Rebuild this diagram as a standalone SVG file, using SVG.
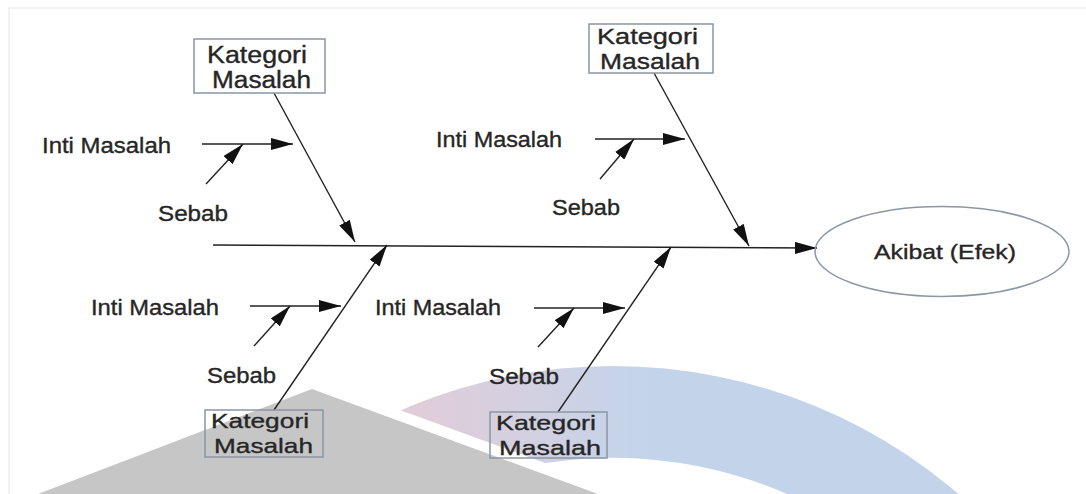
<svg xmlns="http://www.w3.org/2000/svg" width="1086" height="494" viewBox="0 0 1086 494">
  <style>
    .t { font-family: "Liberation Sans", Arial, sans-serif; fill: #262626; stroke: #262626; stroke-width: 0.35; }
    .lbl { font-size: 22px; }
    .box { fill: none; stroke: #8a97a4; stroke-width: 1.5; }
    .conn { stroke: #222; stroke-width: 1.4; fill: none; marker-end: url(#arr); }
  </style>
  <defs>
    <marker id="arr" viewBox="0 0 22 12" refX="22" refY="6" markerWidth="22" markerHeight="12" markerUnits="userSpaceOnUse" orient="auto">
      <path d="M0,0 L22,6 L0,12 z" fill="#111"/>
    </marker>
    <linearGradient id="wmg" gradientUnits="userSpaceOnUse" x1="420" y1="0" x2="650" y2="0">
      <stop offset="0" stop-color="#e0cdd9"/>
      <stop offset="1" stop-color="#c3d4ea"/>
    </linearGradient>
    <clipPath id="cut">
      <polygon points="-723,0 674,510 1200,510 1200,0"/>
    </clipPath>
  </defs>

  <rect x="9" y="8" width="1100" height="520" fill="#fff" stroke="#e6e6e6" stroke-width="1"/>

  <g id="watermark">
    <polygon points="312,389 598,494 38,494" fill="#c6c6c6"/>
    <path clip-path="url(#cut)" fill="url(#wmg)" fill-rule="evenodd"
      d="M83,896 A530,530 0 1 1 1143,896 A530,530 0 1 1 83,896 Z M175,896 A438,438 0 1 0 1051,896 A438,438 0 1 0 175,896 Z"/>
  </g>

  <g id="connectors">
    <line class="conn" x1="213" y1="245" x2="817" y2="248"/>
    <line class="conn" x1="274" y1="93" x2="355" y2="242"/>
    <line class="conn" x1="654" y1="73" x2="749" y2="246"/>
    <line class="conn" x1="274" y1="410" x2="387" y2="245"/>
    <line class="conn" x1="558" y1="412" x2="671" y2="247"/>
    <line class="conn" x1="202" y1="144" x2="293" y2="144"/>
    <line class="conn" x1="206" y1="184" x2="243" y2="144"/>
    <line class="conn" x1="595" y1="139" x2="685" y2="139"/>
    <line class="conn" x1="600" y1="179" x2="634" y2="139"/>
    <line class="conn" x1="250" y1="306" x2="341" y2="306"/>
    <line class="conn" x1="254" y1="346" x2="290" y2="306"/>
    <line class="conn" x1="534" y1="308" x2="625" y2="308"/>
    <line class="conn" x1="538" y1="347" x2="574" y2="308"/>
  </g>

  <g id="effect">
    <ellipse cx="942" cy="251.5" rx="127" ry="45" fill="none" stroke="#8a97a4" stroke-width="1.5"/>
    <text class="t" x="874" y="259" font-size="21" textLength="142" lengthAdjust="spacingAndGlyphs">Akibat (Efek)</text>
  </g>

  <g id="cat-top-left">
    <rect class="box" x="194" y="39" width="131" height="54"/>
    <text class="t" x="207" y="63" font-size="23" textLength="100" lengthAdjust="spacingAndGlyphs">Kategori</text>
    <text class="t" x="212" y="88" font-size="23" textLength="99" lengthAdjust="spacingAndGlyphs">Masalah</text>
  </g>
  <g id="cat-top-right">
    <rect class="box" x="589" y="24" width="124" height="49"/>
    <text class="t" x="597" y="44" font-size="22" textLength="101" lengthAdjust="spacingAndGlyphs">Kategori</text>
    <text class="t" x="600" y="69" font-size="22" textLength="100" lengthAdjust="spacingAndGlyphs">Masalah</text>
  </g>
  <g id="cat-bottom-left">
    <rect class="box" x="205" y="410" width="118" height="47"/>
    <text class="t" x="211" y="428" font-size="21" textLength="98" lengthAdjust="spacingAndGlyphs">Kategori</text>
    <text class="t" x="214" y="453" font-size="21" textLength="99" lengthAdjust="spacingAndGlyphs">Masalah</text>
  </g>
  <g id="cat-bottom-right">
    <rect class="box" x="490" y="412" width="117" height="46"/>
    <text class="t" x="496" y="430" font-size="21" textLength="100" lengthAdjust="spacingAndGlyphs">Kategori</text>
    <text class="t" x="499" y="455" font-size="21" textLength="102" lengthAdjust="spacingAndGlyphs">Masalah</text>
  </g>

  <g id="top-left-cause">
    <text class="t lbl" x="42" y="153" textLength="129" lengthAdjust="spacingAndGlyphs">Inti Masalah</text>
    <text class="t lbl" x="158" y="221" textLength="70" lengthAdjust="spacingAndGlyphs">Sebab</text>
  </g>
  <g id="top-right-cause">
    <text class="t lbl" x="436" y="147" textLength="126" lengthAdjust="spacingAndGlyphs">Inti Masalah</text>
    <text class="t lbl" x="552" y="215" textLength="68" lengthAdjust="spacingAndGlyphs">Sebab</text>
  </g>
  <g id="bottom-left-cause">
    <text class="t lbl" x="91" y="315" textLength="128" lengthAdjust="spacingAndGlyphs">Inti Masalah</text>
    <text class="t lbl" x="207" y="383" textLength="69" lengthAdjust="spacingAndGlyphs">Sebab</text>
  </g>
  <g id="bottom-right-cause">
    <text class="t lbl" x="375" y="315" textLength="126" lengthAdjust="spacingAndGlyphs">Inti Masalah</text>
    <text class="t lbl" x="489" y="384" textLength="70" lengthAdjust="spacingAndGlyphs">Sebab</text>
  </g>
</svg>
